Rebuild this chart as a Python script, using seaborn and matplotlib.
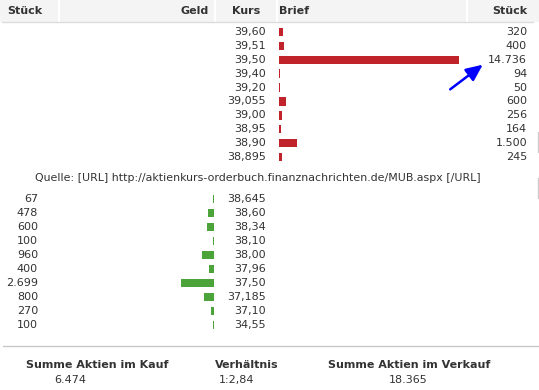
#/usr/bin/env python
# order book (Orderbuch) as table with horizontal bars
import numpy as np
import pandas as pd
import matplotlib
matplotlib.use('Agg')
import matplotlib.pyplot as plt
from matplotlib.patches import Rectangle
from matplotlib.transforms import blended_transform_factory
import seaborn as sns

# data
ask_kurs = ['39,60', '39,51', '39,50', '39,40', '39,20', '39,055', '39,00', '38,95', '38,90', '38,895']
ask_stueck = [320, 400, 14736, 94, 50, 600, 256, 164, 1500, 245]
bid_kurs = ['38,645', '38,60', '38,34', '38,10', '38,00', '37,96', '37,50', '37,185', '37,10', '34,55']
bid_stueck = [67, 478, 600, 100, 960, 400, 2699, 800, 270, 100]
headers = ['Stück', 'Geld', 'Kurs', 'Brief', 'Stück']
summary_titles = ['Summe Aktien im Kauf', 'Verhältnis', 'Summe Aktien im Verkauf']
summary_values = ['6.474', '1:2,84', '18.365']
quelle = 'Quelle: [URL] http://aktienkurs-orderbuch.finanznachrichten.de/MUB.aspx [/URL]'

sns.set_style('white')
plt.rcParams['font.family'] = ['DejaVu Sans']

txt = '#333333'
red = '#c1232a'
green = '#4ba339'
W, H = 539, 390


def fmt(n):
    return f'{n:,}'.replace(',', '.')


fig = plt.figure(figsize=(W / 100, H / 100), dpi=100)
bg = fig.add_axes([0, 0, 1, 1])
bg.set_xlim(0, W)
bg.set_ylim(H, 0)
bg.axis('off')

# header band
bg.add_patch(Rectangle((0, 0), W, 21.5, color='#f4f4f4', lw=0))
for xs in [59, 215, 277, 467]:
    bg.plot([xs, xs], [0, 21.5], color='white', lw=1.5)
bg.plot([2, 533], [22, 22], color='#dcdcdc', lw=1)
hx = [7, 209, 246, 279, 527]
ha = ['left', 'right', 'center', 'left', 'right']
for h, x, a in zip(headers, hx, ha):
    bg.text(x, 11, h, ha=a, va='center', fontsize=8, fontweight='bold', color=txt)


def px_axes(left, top, right, bottom):
    return fig.add_axes([left / W, 1 - bottom / H, (right - left) / W, (bottom - top) / H])


scale = 180 / 14736  # px per share

# ask side (Brief)
ax_ask = px_axes(279, 25, 279 + 180, 164)
df_ask = pd.DataFrame({'kurs': ask_kurs, 'stueck': ask_stueck})
sns.barplot(data=df_ask, x='stueck', y='kurs', orient='h', color=red,
            saturation=1, width=0.6, linewidth=0, ax=ax_ask)
ax_ask.set_xlim(0, 14736)
ax_ask.axis('off')
tr = blended_transform_factory(bg.transData, ax_ask.transData)
for i, (k, s) in enumerate(zip(ask_kurs, ask_stueck)):
    ax_ask.text(266, i, k, transform=tr, ha='right', va='center', fontsize=8, color=txt)
    ax_ask.text(527, i, fmt(s), transform=tr, ha='right', va='center', fontsize=8, color=txt)

# bid side (Geld), bars grow to the left
bid_w = max(bid_stueck) * scale
ax_bid = px_axes(214 - bid_w, 192, 214, 332)
df_bid = pd.DataFrame({'kurs': bid_kurs, 'stueck': bid_stueck})
sns.barplot(data=df_bid, x='stueck', y='kurs', orient='h', color=green,
            saturation=1, width=0.6, linewidth=0, ax=ax_bid)
ax_bid.set_xlim(max(bid_stueck), 0)
ax_bid.axis('off')
tr = blended_transform_factory(bg.transData, ax_bid.transData)
for i, (k, s) in enumerate(zip(bid_kurs, bid_stueck)):
    ax_bid.text(266, i, k, transform=tr, ha='right', va='center', fontsize=8, color=txt)
    ax_bid.text(38, i, fmt(s), transform=tr, ha='right', va='center', fontsize=8, color=txt)

# source line
bg.text(258, 178, quelle, ha='center', va='center', fontsize=7.9, color=txt)

# arrow pointing to the big ask
bg.annotate('', xy=(485, 63), xytext=(448, 91),
            arrowprops=dict(arrowstyle='-|>,head_length=1.0,head_width=0.45', color='#0000ff', lw=1.8))

# small gray box edge on the right
bg.plot([537.5, 537.5], [132, 152], color='#cccccc', lw=1)
bg.plot([537.5, 537.5], [178, 198], color='#cccccc', lw=1)

# summary
bg.plot([3, W], [346, 346], color='#c8c8c8', lw=1)
for t, v, xt, xv in zip(summary_titles, summary_values, [97, 247, 409], [70, 237, 408]):
    bg.text(xt, 365, t, ha='center', va='center', fontsize=8, fontweight='bold', color=txt)
    bg.text(xv, 380, v, ha='center', va='center', fontsize=8, color=txt)

fig.savefig('out.png', dpi=100)
